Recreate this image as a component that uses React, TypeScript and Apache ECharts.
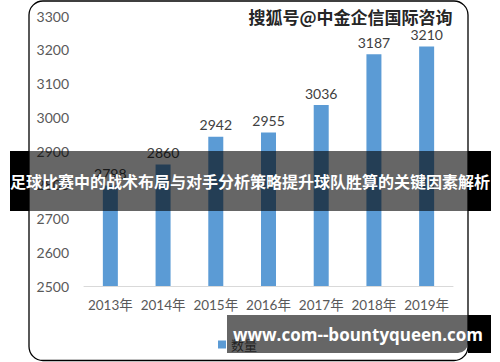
import React, { useEffect, useRef } from "react";
import * as echarts from "echarts";

const categories = ["2013年", "2014年", "2015年", "2016年", "2017年", "2018年", "2019年"];
const values = [2798, 2860, 2942, 2955, 3036, 3187, 3210];
const seriesName = "数量";
const yMin = 2500;
const yMax = 3300;
const yStep = 100;
const bannerTitle = "足球比赛中的战术布局与对手分析策略提升球队胜算的关键因素解析";
const watermark = "搜狐号@中金企信国际咨询";
const footerText = "www.com--bountyqueen.com";

export default function App() {
  const ref = useRef<HTMLDivElement>(null);
  useEffect(() => {
    if (!ref.current) return;
    const chart = echarts.init(ref.current, null, { renderer: "svg" });
    const font = "Lato, 'Noto Sans', sans-serif";
    const cjk = "'Noto Sans CJK SC', sans-serif";
    chart.setOption({
      animation: false,
      backgroundColor: "#ffffff",
      grid: { left: 84, right: 47, top: 16, bottom: 76 },
      legend: {
        left: 213,
        top: 333,
        itemWidth: 8,
        itemHeight: 8,
        icon: "rect",
        textStyle: { fontFamily: cjk, fontSize: 13, color: "#595959" },
        data: [seriesName],
      },
      xAxis: {
        type: "category",
        data: categories,
        axisLine: { lineStyle: { color: "#D9D9D9", width: 1 } },
        axisTick: { show: false },
        axisLabel: {
          color: "#595959",
          fontSize: 13.5,
          fontFamily: font,
          margin: 12,
          interval: 0,
          fontFamily: "Lato, 'Noto Sans CJK SC', sans-serif",
        },
      },
      yAxis: {
        type: "value",
        min: yMin,
        max: yMax,
        interval: yStep,
        axisLine: { show: false },
        axisTick: { show: false },
        splitLine: { show: false },
        axisLabel: {
          color: "#595959",
          fontSize: 14,
          fontFamily: font,
          margin: 15,
          formatter: (v: number) => String(v),
        },
      },
      series: [
        {
          name: seriesName,
          type: "bar",
          data: values,
          barWidth: 15,
          itemStyle: { color: "#5B9BD5" },
          label: {
            show: true,
            position: "top",
            distance: 5,
            color: "#404040",
            fontSize: 14,
            fontFamily: font,
          },
        },
      ],
      graphic: [
        {
          type: "rect",
          z: 90,
          silent: true,
          shape: { x: 29, y: 1, width: 439, height: 359.5, r: 14 },
          style: { fill: "none", stroke: "#000000", lineWidth: 1.3 },
        },
        {
          type: "text",
          z: 95,
          left: 248,
          top: 7,
          style: {
            text: watermark,
            fontFamily: cjk,
            fontWeight: "bold",
            fontSize: 17,
            fill: "#262626",
            stroke: "#ffffff",
            lineWidth: 1,
          },
        },
        { type: "rect", z: 100, shape: { x: 10, y: 151, width: 19, height: 60 }, style: { fill: "#000000" } },
        { type: "rect", z: 100, shape: { x: 468, y: 151, width: 23, height: 60 }, style: { fill: "#000000" } },
        { type: "rect", z: 100, shape: { x: 29, y: 151, width: 439, height: 60 }, style: { fill: "rgba(0,0,0,0.6)" } },
        {
          type: "text",
          z: 101,
          x: 250,
          y: 181,
          style: {
            text: bannerTitle,
            fontFamily: cjk,
            fontWeight: "bold",
            fontSize: 16,
            fill: "#ffffff",
            align: "center",
            verticalAlign: "middle",
          },
        },
        { type: "rect", z: 100, shape: { x: 468, y: 315, width: 23, height: 38 }, style: { fill: "#000000" } },
        { type: "rect", z: 100, shape: { x: 227, y: 315, width: 241, height: 38, r: [0, 0, 10, 0] }, style: { fill: "rgba(0,0,0,0.6)" } },
        {
          type: "text",
          z: 101,
          x: 358,
          y: 334,
          style: {
            text: footerText,
            fontFamily: "'Open Sans', 'DejaVu Sans', sans-serif",
            fontWeight: "bold",
            fontSize: 17,
            fill: "#ffffff",
            align: "center",
            verticalAlign: "middle",
          },
        },
      ],
    });
    return () => chart.dispose();
  }, []);
  return (
    <div
      ref={ref}
      style={{ position: "fixed", left: 0, top: 0, width: 500, height: 362 }}
    />
  );
}
